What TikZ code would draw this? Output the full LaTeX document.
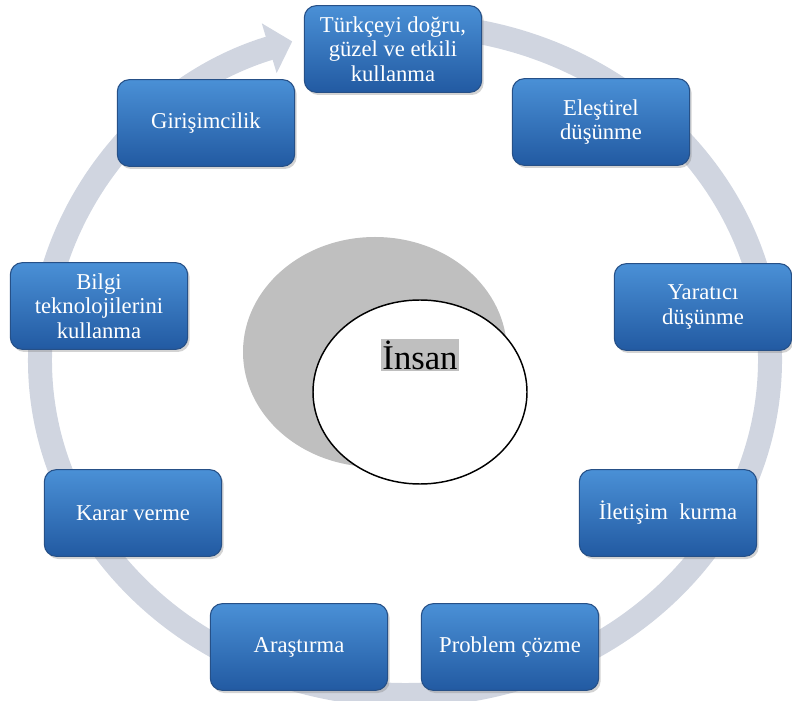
\documentclass[tikz,border=0pt]{standalone}
\usepackage{fontspec}
\setmainfont{Liberation Serif}
\usepackage{tikz}
\usetikzlibrary{arrows.meta}
\usetikzlibrary{shadows}
\definecolor{boxtop}{RGB}{74,144,214}
\definecolor{boxbot}{RGB}{34,90,162}
\definecolor{boxline}{RGB}{38,80,135}
\definecolor{ringgray}{RGB}{208,213,224}
\definecolor{shadegray}{RGB}{191,191,191}
\tikzset{
  skill/.style={rounded corners=9pt, top color=boxtop, bottom color=boxbot, draw=boxline,
    line width=0.8pt, drop shadow={opacity=0.35, shadow xshift=1.5pt, shadow yshift=-2pt},
    minimum width=133pt, minimum height=65pt, align=center, text=white,
    font=\fontsize{17}{18.5}\selectfont},
  ring/.style={line width=18pt, ringgray, -{Triangle[length=18pt, width=38pt]}}
}
\begin{document}
\begin{tikzpicture}[x=0.75pt, y=0.75pt]
        \useasboundingbox (0,0) rectangle (792,700);
        % circular arrow behind the boxes
        \draw [ring] ([shift={(85:365 and 335)}]405,340) arc [start angle=85, end angle=-252, x radius=365, y radius=335];
        % centre
        \fill [shadegray] (375,348) ellipse [x radius=132, y radius=115];
        \draw [black, line width=1.1pt, fill=white] (420,308) ellipse [x radius=107, y radius=92];
        \node [fill=shadegray, inner sep=1pt, font=\fontsize{26}{28}\selectfont] (insan) at (420,345) {İnsan};
        % skills
        \node [skill] (turkce) at (393,651) {Türkçeyi doğru,\\güzel ve etkili\\kullanma};
        \node [skill] (elestirel) at (601,578) {Eleştirel\\düşünme};
        \node [skill] (yaratici) at (703,393) {Yaratıcı\\düşünme};
        \node [skill] (iletisim) at (668,187) {İletişim~~kurma};
        \node [skill] (problem) at (510,53) {Problem çözme};
        \node [skill] (arastirma) at (299,53) {Araştırma};
        \node [skill] (karar) at (133,187) {Karar verme};
        \node [skill] (bilgi) at (99,394) {Bilgi\\teknolojilerini\\kullanma};
        \node [skill] (girisim) at (206,577) {Girişimcilik};
\end{tikzpicture}
\end{document}
